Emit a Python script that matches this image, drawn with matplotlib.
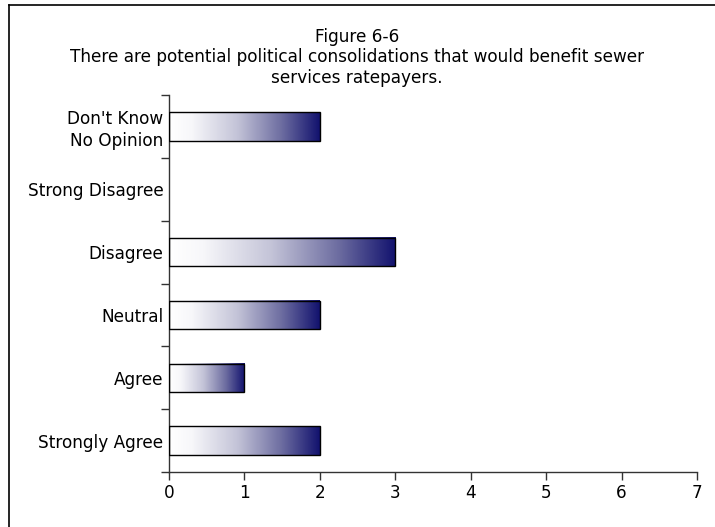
import numpy as np
import matplotlib
matplotlib.use("Agg")
import matplotlib.pyplot as plt
from matplotlib.colors import LinearSegmentedColormap
from matplotlib.lines import Line2D

categories = ["Strongly Agree", "Agree", "Neutral", "Disagree",
              "Strong Disagree", "Don't Know\nNo Opinion"]
counts = [2, 1, 2, 3, 0, 2]
x_ticks = [0, 1, 2, 3, 4, 5, 6, 7]
title_lines = ["Figure 6-6",
               "There are potential political consolidations that would benefit sewer",
               "services ratepayers."]

plt.rcParams["font.family"] = ["DejaVu Sans"]
fs = 12.2

fig = plt.figure(figsize=(7.15, 5.27), dpi=100)
ax = fig.add_axes([169 / 715, 1 - 472 / 527, (697 - 169) / 715, (472 - 95) / 527])

cmap = LinearSegmentedColormap.from_list(
    "fade",
    [(0.0, "#ffffff"), (0.15, "#f7f7fa"), (0.45, "#c4c4d8"),
     (0.75, "#6c6ca0"), (1.0, "#12126e")])
grad = np.linspace(0, 1, 256).reshape(1, -1)

bar_h = 0.45
ypos = np.arange(len(categories))
for y, v in zip(ypos, counts):
    if v <= 0:
        continue
    ax.imshow(grad, cmap=cmap, aspect="auto", interpolation="bilinear",
              extent=(0, v, y - bar_h / 2, y + bar_h / 2), zorder=2)
    ax.barh(y, v, height=bar_h, facecolor="none", edgecolor="black",
            linewidth=1.0, zorder=3)

ax.set_xlim(0, 7)
ax.set_ylim(-0.5, len(categories) - 0.5)
ax.set_xticks(x_ticks)
ax.set_xticklabels([str(t) for t in x_ticks], fontsize=fs)
ax.set_yticks(ypos)
ax.set_yticklabels(categories, fontsize=fs, linespacing=1.25)
ax.set_yticks(np.arange(-0.5, len(categories), 1.0), minor=True)
ax.tick_params(axis="y", which="major", length=0, pad=4)
ax.tick_params(axis="y", which="minor", length=6, width=1, color="#333333")
ax.tick_params(axis="x", length=6, width=1, color="#333333", pad=3)
for s in ["top", "right"]:
    ax.spines[s].set_visible(False)
for s in ["left", "bottom"]:
    ax.spines[s].set_color("#333333")
    ax.spines[s].set_linewidth(1.0)

ys = [37, 57, 78]
for line, yy in zip(title_lines, ys):
    fig.text(357 / 715, 1 - yy / 527, line, ha="center", va="center", fontsize=fs)

# outer frame (top and left edges)
fig.add_artist(Line2D([9 / 715, 1.0], [1 - 5 / 527, 1 - 5 / 527],
                      transform=fig.transFigure, color="black", lw=1.2))
fig.add_artist(Line2D([9 / 715, 9 / 715], [0.0, 1 - 5 / 527],
                      transform=fig.transFigure, color="black", lw=1.2))

fig.savefig("out.png", dpi=100)
